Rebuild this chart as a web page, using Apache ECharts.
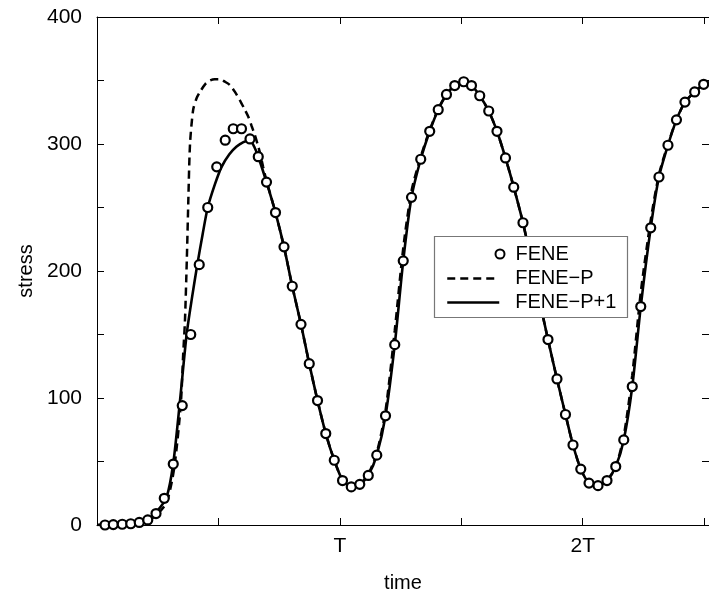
<!DOCTYPE html>
<html>
<head>
<meta charset="utf-8">
<script src="https://cdn.jsdelivr.net/npm/echarts@6/dist/echarts.min.js"></script>
<style>
  html, body { margin: 0; padding: 0; background: #fff; }
  #chart { width: 709px; height: 595px; }
</style>
</head>
<body>
<div id="chart"></div>
<script>
// ---- data (time in units of the period T, stress) ----
const feneT = [0.033,0.067,0.104,0.139,0.174,0.209,0.243,0.277,0.314,0.351,0.386,0.421,0.456,0.493,0.528,0.561,0.595,0.630,0.664,0.698,0.735,0.770,0.804,0.840,0.874,0.908,0.942,0.977,1.011,1.047,1.082,1.117,1.152,1.188,1.226,1.261,1.295,1.333,1.370,1.405,1.439,1.473,1.510,1.542,1.576,1.613,1.647,1.682,1.716,1.754,1.788,1.822,1.857,1.894,1.929,1.960,1.992,2.026,2.063,2.100,2.136,2.169,2.204,2.239,2.280,2.314,2.351,2.386,2.421,2.461,2.498];
const feneS = [0,0.3,0.6,1,2,4,9,21,48,94,150,205,250,282,303,312,312,304,290,270,246,219,188,158,127,98,72,51,35,30,32,39,55,86,142,208,258,288,310,327,339,346,349,346,338,326,310,289,266,238,208,177,146,115,87,63,44,33,31,35,46,67,109,172,234,274,299,319,333,341,347];

const fenePT = [0,0.05,0.1,0.15,0.205,0.246,0.287,0.318,0.345,0.355,0.362,0.370,0.376,0.383,0.396,0.410,0.424,0.445,0.465,0.485,0.506,0.527,0.547,0.568,0.588,0.606,0.623,0.637,0.650,0.661,0.671,0.684,0.698,0.735,0.770,0.804,0.840,0.874,0.908,0.942,0.977,1.011,1.047,1.082,1.117,1.152,1.188,1.226,1.261,1.295,1.333,1.370,1.405,1.439,1.473,1.510,1.542,1.576,1.613,1.647,1.682,1.716,1.754,1.788,1.822,1.857,1.894,1.929,1.960,1.992,2.026,2.063,2.100,2.136,2.169,2.204,2.239,2.280,2.314,2.351,2.386,2.421,2.461,2.498,2.520];
const fenePS = [0,0.2,0.5,1.2,3,8,18,45,95,135,160,210,255,300,327,336,341,347,350,351,351,349,346.5,341,334.6,328,321.5,314,307,300,293,282,271,246,219,188,158,127,98,72,51,35.4,30.5,32.5,40,57,90,153,218,263,290,311,327.5,339,346,348.6,346,338,326,310,289,266,238,208,177,146,115,87,63,44,33,31,35,46,70,118,183,240,276,300,319,333,341,347,348.5];

const fenePP1T = [0,0.05,0.1,0.15,0.205,0.246,0.287,0.314,0.342,0.369,0.392,0.413,0.435,0.456,0.485,0.513,0.545,0.575,0.603,0.630,0.647,0.664,0.698,0.735,0.770,0.804,0.840,0.874,0.908,0.942,0.977,1.011,1.047,1.082,1.117,1.152,1.188,1.226,1.261,1.295,1.333,1.370,1.405,1.439,1.473,1.510,1.542,1.576,1.613,1.647,1.682,1.716,1.754,1.788,1.822,1.857,1.894,1.929,1.960,1.992,2.026,2.063,2.100,2.136,2.169,2.204,2.239,2.280,2.314,2.351,2.386,2.421,2.461,2.498,2.520];
const fenePP1S = [0,0.3,0.8,1.8,4,10.5,22.3,48.6,98.4,150,180,205,229,250,268,282,292,298,301.5,303,298,290,270,246,219,188,158,127,98,72,51,35.4,30.2,32,39,55,86,142,208,258,288,310,327,339,346,348.6,346,338,326,310,289,266,238,208,177,146,115,87,63,44,33,31,35,46,67,109,172,234,274,299,319,333,341,347,348.5];

const xTickValues = [0, 0.5, 1, 1.5, 2, 2.5];
const xLabelValues = [1, 2];
const xLabelTexts = ['T', '2T'];
const yLabelStep = 100;

const seriesNames = ['FENE', 'FENE\u2212P', 'FENE\u2212P+1'];

// ---- chart ----
const FONT = '"Liberation Sans", Arial, Helvetica, sans-serif';
const zip = (a, b) => a.map((v, i) => [v, b[i]]);
const chart = echarts.init(document.getElementById('chart'), null, { renderer: 'canvas' });

const lineCommon = { show: true, onZero: false, lineStyle: { color: '#000', width: 1 } };
const tickStyle = { color: '#000', width: 1 };

const xLabelFmt = v => {
  const i = xLabelValues.indexOf(Math.round(v * 1000) / 1000);
  return i >= 0 ? xLabelTexts[i] : '';
};

chart.setOption({
  animation: false,
  backgroundColor: '#fff',
  grid: { left: 97, top: 17, right: 0, bottom: 70, containLabel: false, outerBoundsMode: 'none' },
  xAxis: [
    {
      type: 'value', position: 'bottom', min: 0, max: 2.52, interval: 0.5,
      name: 'time', nameLocation: 'middle', nameGap: 48,
      nameTextStyle: { color: '#000', fontSize: 20, fontFamily: FONT },
      axisLine: lineCommon, splitLine: { show: false },
      axisTick: { show: true, inside: true, length: 7, customValues: xTickValues, lineStyle: tickStyle },
      axisLabel: { color: '#000', fontSize: 21, fontFamily: FONT, margin: 11, customValues: xLabelValues, formatter: xLabelFmt }
    },
    {
      type: 'value', position: 'top', min: 0, max: 2.52, interval: 0.5,
      axisLine: lineCommon, splitLine: { show: false },
      axisTick: { show: true, inside: true, length: 7, customValues: xTickValues, lineStyle: tickStyle },
      axisLabel: { show: false }
    }
  ],
  yAxis: [
    {
      type: 'value', position: 'left', min: 0, max: 400, interval: 50,
      name: 'stress', nameLocation: 'middle', nameGap: 56,
      nameTextStyle: { color: '#000', fontSize: 20, fontFamily: FONT },
      axisLine: lineCommon, splitLine: { show: false },
      axisTick: { show: true, inside: true, length: 7, lineStyle: tickStyle },
      axisLabel: { color: '#000', fontSize: 21, fontFamily: FONT, margin: 15,
        formatter: v => (v % yLabelStep === 0 ? String(v) : '') }
    },
    {
      type: 'value', position: 'right', min: 0, max: 400, interval: 50,
      axisLine: lineCommon, splitLine: { show: false },
      axisTick: { show: true, inside: true, length: 7, lineStyle: tickStyle },
      axisLabel: { show: false }
    }
  ],
  legend: [
    {
      data: [seriesNames[0]], orient: 'vertical', left: 494.5, top: 244, padding: 0,
      itemWidth: 9, itemHeight: 9, selectedMode: false, z: 60,
      itemStyle: { opacity: 1 },
      textStyle: { color: '#000', fontSize: 20, fontFamily: FONT, lineHeight: 20, padding: [0, 0, 0, 6] }
    },
    {
      data: [seriesNames[1], seriesNames[2]], orient: 'vertical', left: 446, top: 268.5, padding: 0,
      itemWidth: 52, itemHeight: 10, itemGap: 4, selectedMode: false, z: 60,
      itemStyle: { opacity: 0 },
      lineStyle: { width: 2.5 },
      textStyle: { color: '#000', fontSize: 20, fontFamily: FONT, lineHeight: 20, padding: [0, 0, 0, 11] }
    }
  ],
  graphic: {
    elements: [{
      type: 'rect', z: 50,
      shape: { x: 434.5, y: 236.5, width: 193, height: 81 },
      style: { fill: '#fff', stroke: '#777', lineWidth: 1.2 }
    }]
  },
  series: [
    {
      name: seriesNames[1], type: 'line', data: zip(fenePT, fenePS),
      showSymbol: false, symbol: 'none', smooth: 0.25, z: 3,
      lineStyle: { color: '#000', width: 2.5, type: [8, 5] }, itemStyle: { color: '#000' }
    },
    {
      name: seriesNames[2], type: 'line', data: zip(fenePP1T, fenePP1S),
      showSymbol: false, symbol: 'none', smooth: 0.25, z: 4,
      lineStyle: { color: '#000', width: 2.6, type: 'solid' }, itemStyle: { color: '#000' }
    },
    {
      name: seriesNames[0], type: 'scatter', data: zip(feneT, feneS),
      symbol: 'circle', symbolSize: 9, z: 5,
      itemStyle: { color: '#fff', borderColor: '#000', borderWidth: 2.2, opacity: 1 }
    }
  ]
});
</script>
</body>
</html>
